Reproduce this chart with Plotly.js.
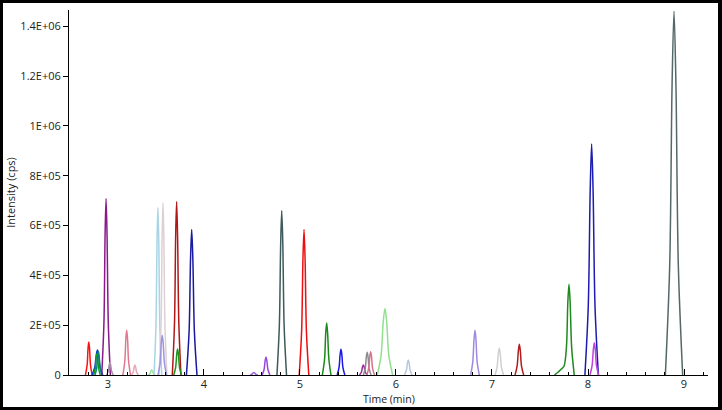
<!DOCTYPE html>
<html>
<head>
<meta charset="utf-8">
<script src="https://cdn.plot.ly/plotly-3.0.1.min.js"></script>
<style>
html,body{margin:0;padding:0;background:#fff;}
#chart{width:715px;height:404px;border-style:solid;border-color:#000;border-width:3px 4px 3px 3px;}
</style>
</head>
<body>
<div id="chart"></div>
<script>
// Retention time (min) and intensity (cps) points read from each peak
const t01 = [2.765, 2.783, 2.792, 2.800, 2.808, 2.818, 2.835];
const i01 = [0, 40000, 106000, 132000, 106000, 40000, 0];
const t02 = [2.835, 2.862, 2.878, 2.890, 2.902, 2.918, 2.945];
const i02 = [0, 30000, 80000, 100000, 80000, 30000, 0];
const t03 = [2.850, 2.868, 2.877, 2.885, 2.893, 2.903, 2.920];
const i03 = [0, 25500, 68000, 85000, 68000, 25500, 0];
const t04 = [2.865, 2.883, 2.892, 2.900, 2.908, 2.918, 2.935];
const i04 = [0, 28500, 76000, 95000, 76000, 28500, 0];
const t05 = [2.935, 2.958, 2.970, 2.980, 2.990, 3.003, 3.025];
const i05 = [0, 212000, 566000, 708000, 566000, 212000, 0];
const t06 = [2.985, 3.003, 3.012, 3.020, 3.028, 3.038, 3.055];
const i06 = [0, 15000, 40000, 50000, 40000, 15000, 0];
const t07 = [3.155, 3.175, 3.186, 3.195, 3.204, 3.215, 3.235];
const i07 = [0, 54000, 144000, 180000, 144000, 54000, 0];
const t08 = [3.245, 3.263, 3.272, 3.280, 3.288, 3.298, 3.315];
const i08 = [0, 12000, 32000, 40000, 32000, 12000, 0];
const t09 = [3.420, 3.438, 3.447, 3.455, 3.463, 3.473, 3.490];
const i09 = [0, 6000, 16000, 20000, 16000, 6000, 0];
const t10 = [3.480, 3.500, 3.511, 3.520, 3.529, 3.540, 3.560];
const i10 = [0, 202000, 538000, 672000, 538000, 202000, 0];
const t11 = [3.533, 3.553, 3.564, 3.573, 3.582, 3.593, 3.613];
const i11 = [0, 208000, 554000, 692000, 554000, 208000, 0];
const t12 = [3.520, 3.543, 3.555, 3.565, 3.575, 3.588, 3.610];
const i12 = [0, 48000, 128000, 160000, 128000, 48000, 0];
const t13 = [3.670, 3.693, 3.705, 3.715, 3.725, 3.738, 3.760];
const i13 = [0, 209000, 557000, 696000, 557000, 209000, 0];
const t14 = [3.685, 3.705, 3.716, 3.725, 3.734, 3.745, 3.765];
const i14 = [0, 31000, 83000, 104000, 83000, 31000, 0];
const t15 = [3.817, 3.845, 3.860, 3.872, 3.884, 3.900, 3.927];
const i15 = [0, 175000, 467000, 584000, 467000, 175000, 0];
const t16 = [4.480, 4.500, 4.511, 4.520, 4.529, 4.540, 4.560];
const i16 = [0, 3000, 8000, 10000, 8000, 3000, 0];
const t17 = [4.606, 4.626, 4.637, 4.646, 4.655, 4.666, 4.686];
const i17 = [0, 22000, 58000, 72000, 58000, 22000, 0];
const t18 = [4.760, 4.785, 4.799, 4.810, 4.821, 4.835, 4.860];
const i18 = [0, 198000, 528000, 660000, 528000, 198000, 0];
const t19 = [4.992, 5.017, 5.031, 5.042, 5.053, 5.067, 5.092];
const i19 = [0, 175000, 467000, 584000, 467000, 175000, 0];
const t20 = [5.233, 5.256, 5.268, 5.278, 5.288, 5.301, 5.323];
const i20 = [0, 63000, 167000, 209000, 167000, 63000, 0];
const t21 = [5.387, 5.407, 5.418, 5.427, 5.436, 5.447, 5.467];
const i21 = [0, 31000, 82000, 103000, 82000, 31000, 0];
const t22 = [5.620, 5.640, 5.651, 5.660, 5.669, 5.680, 5.700];
const i22 = [0, 12000, 32000, 40000, 32000, 12000, 0];
const t23 = [5.660, 5.680, 5.691, 5.700, 5.709, 5.720, 5.740];
const i23 = [0, 27000, 73000, 91000, 73000, 27000, 0];
const t24 = [5.696, 5.716, 5.727, 5.736, 5.745, 5.756, 5.776];
const i24 = [0, 28000, 74000, 93000, 74000, 28000, 0];
const t25 = [5.805, 5.845, 5.867, 5.885, 5.903, 5.925, 5.965];
const i25 = [0, 80000, 214000, 267000, 214000, 80000, 0];
const t26 = [6.088, 6.108, 6.119, 6.128, 6.137, 6.148, 6.168];
const i26 = [0, 18000, 48000, 60000, 48000, 18000, 0];
const t27 = [6.778, 6.800, 6.813, 6.823, 6.833, 6.845, 6.868];
const i27 = [0, 54000, 144000, 180000, 144000, 54000, 0];
const t28 = [7.031, 7.053, 7.066, 7.076, 7.086, 7.098, 7.121];
const i28 = [0, 32000, 86000, 107000, 86000, 32000, 0];
const t29 = [7.240, 7.262, 7.275, 7.285, 7.295, 7.307, 7.330];
const i29 = [0, 37000, 98000, 123000, 98000, 37000, 0];
const t30 = [7.650, 7.690, 7.722, 7.750, 7.775, 7.790, 7.802, 7.814, 7.830, 7.857];
const i30 = [0, 12000, 24000, 35000, 109000, 291000, 364000, 291000, 109000, 0];
const t31 = [7.968, 8.003, 8.023, 8.038, 8.053, 8.073, 8.108];
const i31 = [0, 278000, 742000, 927000, 742000, 278000, 0];
const t32 = [8.021, 8.043, 8.056, 8.066, 8.076, 8.088, 8.111];
const i32 = [0, 39000, 103000, 129000, 103000, 39000, 0];
const t33 = [8.806, 8.851, 8.876, 8.896, 8.916, 8.941, 8.986];
const i33 = [0, 438000, 1168000, 1460000, 1168000, 438000, 0];

const peakTimes = [t01,t02,t03,t04,t05,t06,t07,t08,t09,t10,t11,t12,t13,t14,t15,t16,t17,t18,t19,t20,t21,t22,t23,t24,t25,t26,t27,t28,t29,t30,t31,t32,t33];
const peakInts  = [i01,i02,i03,i04,i05,i06,i07,i08,i09,i10,i11,i12,i13,i14,i15,i16,i17,i18,i19,i20,i21,i22,i23,i24,i25,i26,i27,i28,i29,i30,i31,i32,i33];
const peakColors = ["#ff1010","#1030d0","#10a020","#108080","#8a1a8a","#a890a8","#e07890","#e8a8b8",
  "#a0e0a0","#a8d4e4","#ddd0d4","#9c94dc","#b01818","#20901c","#1a1aa0","#9a60d8","#9448e0",
  "#3e5a5a","#ee1010","#1a8a1a","#1818e8","#a02aa0","#8c8c8c","#d87090","#90e090","#b8c8dc",
  "#a08ae0","#d0d0d0","#b01c1c","#1e8a1e","#1c1cb0","#c040e0","#546868"];

const xTickVals = [3, 4, 5, 6, 7, 8, 9];
const xTickText = ["3", "4", "5", "6", "7", "8", "9"];
const yTickVals = [0, 200000, 400000, 600000, 800000, 1000000, 1200000, 1400000];
const yTickText = ["0", "2E+05", "4E+05", "6E+05", "8E+05", "1E+06", "1.2E+06", "1.4E+06"];
const xTitle = "Time (min)";
const yTitle = "Intensity (cps)";

const traces = peakTimes.map((t, k) => ({
  x: t, y: peakInts[k], type: "scatter", mode: "lines",
  line: {color: peakColors[k], width: 1.5, shape: "spline", smoothing: 0.9},
  hoverinfo: "skip"
}));

const fnt = {family: "'Open Sans', 'Noto Sans', sans-serif", size: 11, color: "#222"};
const layout = {
  width: 715, height: 404,
  margin: {l: 66, r: 10, t: 7, b: 32},
  paper_bgcolor: "#fff", plot_bgcolor: "#fff",
  showlegend: false, hovermode: false,
  font: fnt,
  xaxis: {
    range: [2.594, 9.25], showgrid: false, zeroline: false,
    showline: true, linecolor: "#000", linewidth: 1,
    ticks: "inside", ticklen: 6, tickcolor: "#000", tickwidth: 1,
    tickvals: xTickVals, ticktext: xTickText,
    ticklabelstandoff: -1,
    minor: {dtick: 0.2, tick0: 0, ticks: "inside", ticklen: 3, tickcolor: "#000", showgrid: false},
    tickfont: fnt
  },
  yaxis: {
    range: [0, 1465000], showgrid: false, zeroline: false,
    showline: true, linecolor: "#000", linewidth: 1,
    ticks: "outside", ticklen: 5, tickcolor: "#000",
    tickvals: yTickVals, ticktext: yTickText,
    tickfont: fnt,
    title: {text: yTitle, font: fnt, standoff: 6}
  },
  annotations: [{
    text: xTitle, xref: "paper", yref: "paper", x: 0.5, y: -0.067,
    xanchor: "center", yanchor: "middle", showarrow: false,
    font: {family: fnt.family, size: 10.5, color: fnt.color}
  }]
};
Plotly.newPlot("chart", traces, layout, {staticPlot: true, displayModeBar: false});
</script>
</body>
</html>
